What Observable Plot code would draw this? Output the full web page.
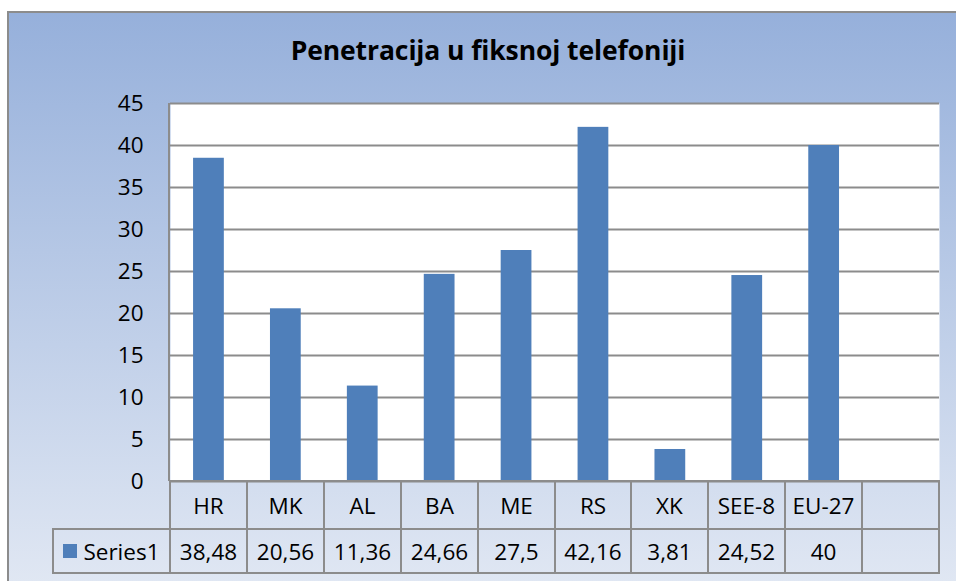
<!DOCTYPE html>
<html><head><meta charset="utf-8">
<script src="https://cdn.jsdelivr.net/npm/d3@7"></script>
<script src="https://cdn.jsdelivr.net/npm/@observablehq/plot@0.6"></script>
<style>
body{margin:0;background:#fff;font-family:"Open Sans",Lato,sans-serif;}
#wrap{position:relative;width:956px;height:581px;overflow:hidden;}
#frame{position:absolute;left:7px;top:11px;width:1000px;height:600px;background:linear-gradient(to bottom,#96b0db 0px,#e0e7f3 570px);border-top:2px solid #8c8c8c;border-left:2px solid #8c8c8c;}
#title{position:absolute;left:0;width:976px;top:35px;line-height:30px;text-align:center;font-weight:bold;font-size:26.5px;color:#000;letter-spacing:-0.1px;}
#chart{position:absolute;left:0;top:0;}
#vline{position:absolute;left:168px;top:103px;width:2px;height:378px;background:#8c8c8c;}
.cell{position:absolute;box-sizing:border-box;border:2px solid #8c8c8c;display:flex;align-items:center;justify-content:center;font-size:22.5px;color:#000;white-space:nowrap;}
.sw{display:inline-block;width:14px;height:14px;background:#4f7fba;margin-right:6px;}
</style></head>
<body>
<div id="wrap">
  <div id="frame"></div>
  <div id="title">Penetracija u fiksnoj telefoniji</div>
  <div id="chart"></div>
  <div id="vline"></div>
  <div id="table"></div>
</div>
<script>
const categories = ["HR","MK","AL","BA","ME","RS","XK","SEE-8","EU-27"];
const values = [38.48,20.56,11.36,24.66,27.5,42.16,3.81,24.52,40];
const valueLabels = ["38,48","20,56","11,36","24,66","27,5","42,16","3,81","24,52","40"];
const seriesName = "Series1";
const yTicks = [0,5,10,15,20,25,30,35,40,45];
const emptyCategory = " ";

const data = categories.map((c,i)=>({cat:c, value:values[i]}));
const domain = [...categories, emptyCategory];

const chart = Plot.plot({
  width: 956, height: 581,
  marginLeft: 170, marginRight: 17, marginTop: 103, marginBottom: 100,
  style: {background: "transparent", fontFamily: "'Open Sans', Lato, sans-serif", fontSize: "22px", color: "#000", overflow: "visible"},
  x: {domain, paddingInner: 0.6, paddingOuter: 0.3, round: false, axis: null},
  y: {domain: [0,45], ticks: yTicks, axis: null},
  marks: [
    Plot.frame({fill: "white", stroke: "none"}),
    Plot.ruleY(yTicks, {stroke: "#8c8c8c", strokeWidth: 2}),
    Plot.barY(data, {x: "cat", y: "value", fill: "#4f7fba"}),
    Plot.axisY({ticks: yTicks, tickSize: 0, tickPadding: 27, fontSize: 22.5, fill: "#000", label: null})
  ]
});
document.getElementById("chart").append(chart);

// data table aligned with the plot's x scale
const xs = chart.scale("x");
const step = xs.step;
const r0 = xs.range[0];
const table = d3.select("#table");
const row1Top = 480, row1H = 50, row2Top = 528, row2H = 46;
domain.forEach((c,i)=>{
  const a = Math.round(r0 + i*step) - 1;
  const b = Math.round(r0 + (i+1)*step) + 1;
  table.append("div").attr("class","cell")
    .style("left",a+"px").style("width",(b-a)+"px")
    .style("top",row1Top+"px").style("height",row1H+"px")
    .text(i < categories.length ? c : "");
  table.append("div").attr("class","cell")
    .style("left",a+"px").style("width",(b-a)+"px")
    .style("top",row2Top+"px").style("height",row2H+"px")
    .text(i < valueLabels.length ? valueLabels[i] : "");
});
const leg = table.append("div").attr("class","cell")
  .style("left","52px").style("width",(Math.round(r0)-52+1)+"px")
  .style("top",row2Top+"px").style("height",row2H+"px");
leg.append("span").attr("class","sw");
leg.append("span").text(seriesName);
</script>
</body></html>
